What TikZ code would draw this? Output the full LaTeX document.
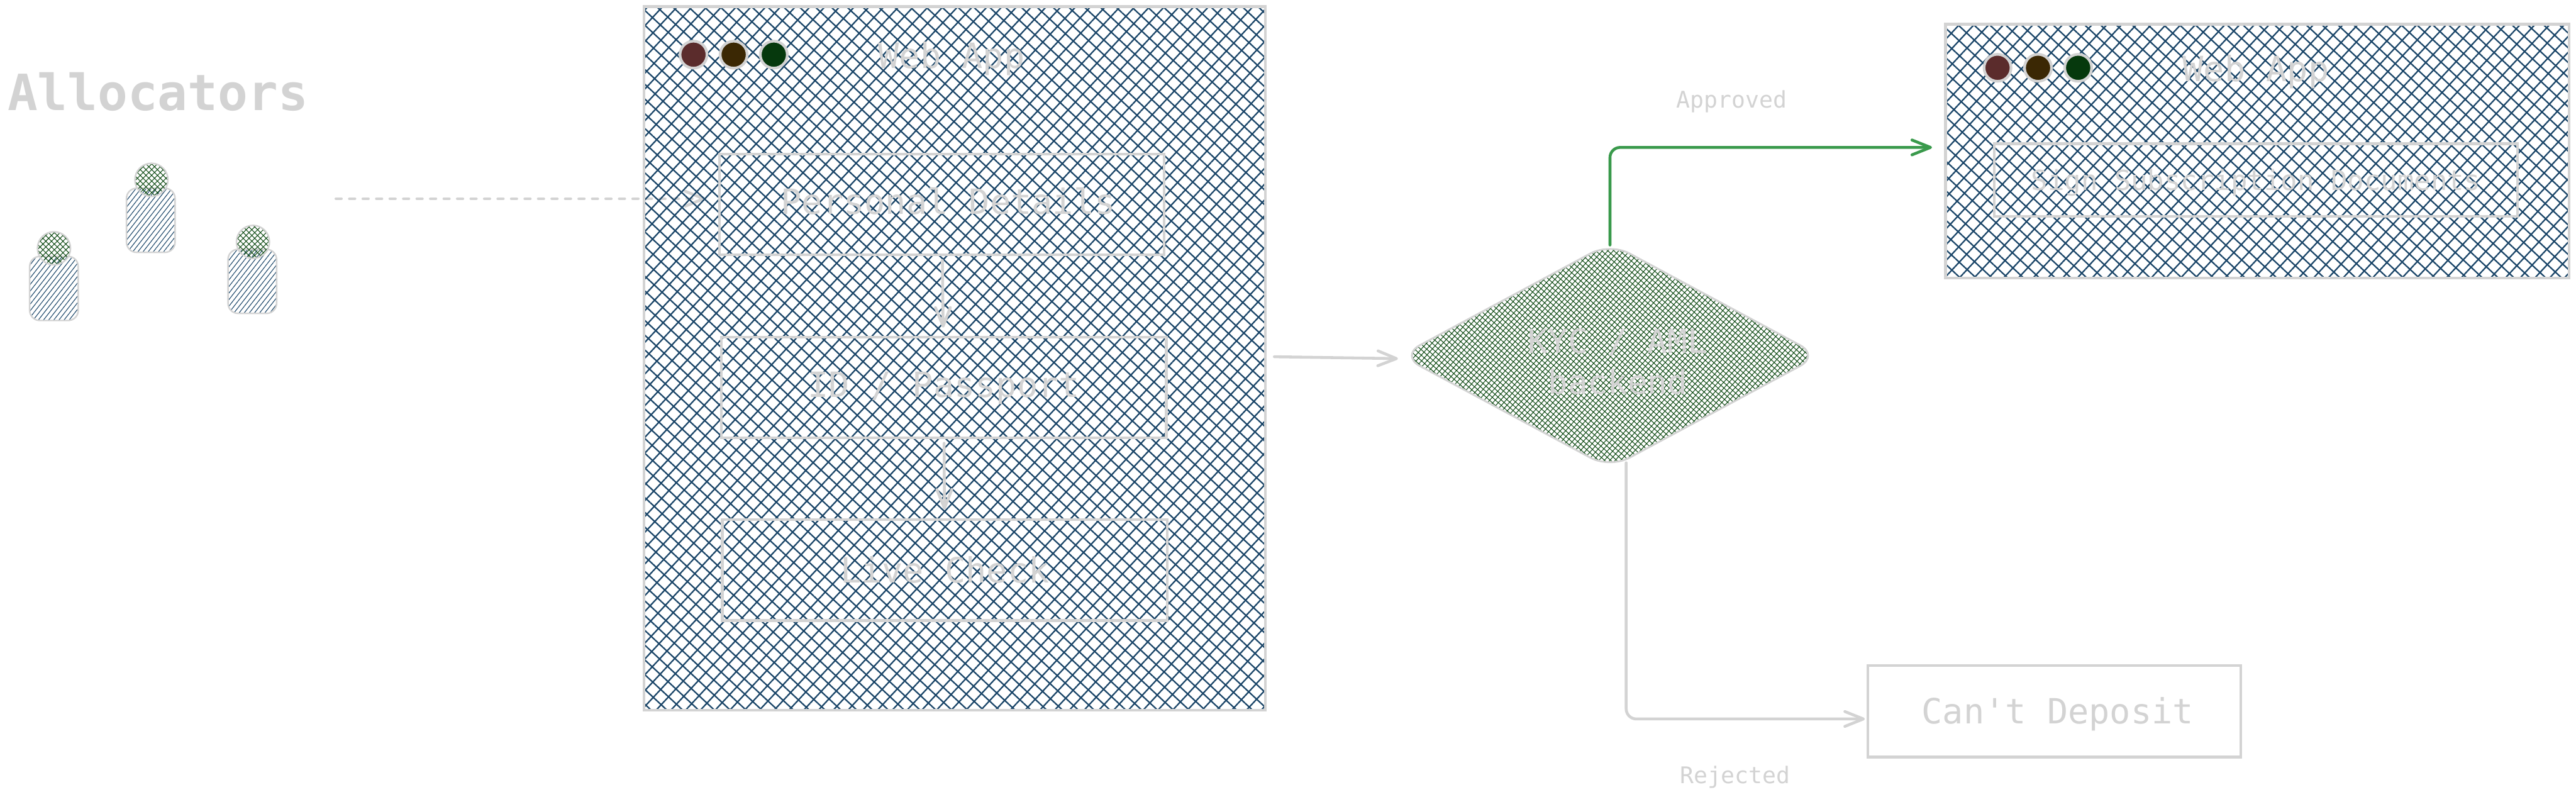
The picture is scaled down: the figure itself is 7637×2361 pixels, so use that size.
\documentclass[tikz,border=0pt]{standalone}
\usepackage{fontspec}
\setmonofont{DejaVu Sans Mono}
\usepackage{xcolor}
\usetikzlibrary{shapes.geometric}
\usetikzlibrary{arrows.meta}
\usetikzlibrary{patterns.meta}
\definecolor{edgegray}{HTML}{D3D3D3}
\definecolor{hatchblue}{HTML}{1A4568}
\definecolor{hatchgreen}{HTML}{0F4A14}
\definecolor{okgreen}{HTML}{3A9A4C}
\definecolor{dotred}{HTML}{5B2C2C}
\definecolor{dotbrown}{HTML}{3B2804}
\definecolor{dotgreen}{HTML}{06390D}

\begin{document}
\begin{tikzpicture}[
  x=0.1pt,y=-0.1pt,
  every node/.style={edgegray,text=edgegray,inner sep=0pt,line width=0.8pt},
  bigfont/.style={font=\ttfamily\fontsize{10.3pt}{12pt}\selectfont},
  smallfont/.style={font=\ttfamily\fontsize{6.8pt}{8pt}\selectfont},
  tag/.style={bigfont,anchor=base},
  appbox/.style={draw,rectangle,
    preaction={pattern={Lines[angle=47,distance=3.2pt,line width=0.42pt]},pattern color=hatchblue},
    pattern={Lines[angle=-43,distance=3.2pt,line width=0.42pt]},pattern color=hatchblue},
  stepbox/.style={draw,rectangle,bigfont,text height=7.5pt,text depth=0pt},
  dot/.style={draw,circle,minimum size=8pt},
  body/.style={draw,rectangle,rounded corners=3pt,line width=0.45pt,minimum width=14.4pt,minimum height=19pt,
    pattern={Lines[angle=52,distance=1.2pt,line width=0.2pt]},pattern color=hatchblue},
  head/.style={draw,circle,line width=0.45pt,minimum size=9.8pt,
    preaction={pattern={Lines[angle=45,distance=1.2pt,line width=0.2pt]},pattern color=hatchgreen},
    pattern={Lines[angle=-45,distance=1.2pt,line width=0.2pt]},pattern color=hatchgreen},
  flow/.style={edgegray,line width=0.85pt,line cap=round,-{Straight Barb[length=5.5pt,width=4.4pt,round]}}]
\useasboundingbox (0,0) rectangle (7637,2361);
\node[tag,font=\ttfamily\bfseries\fontsize{14.8pt}{16pt}\selectfont] (allocators) at (468,328) {Allocators};
\node[body] (bodya) at (160,855) {};
\node[head] (heada) at (160,736) {};
\node[body] (bodyb) at (447,653) {};
\node[head] (headb) at (449,533) {};
\node[body] (bodyc) at (748,834) {};
\node[head] (headc) at (750,717) {};
\coordinate (dashstart) at (996,589);
\coordinate (dashend) at (2091,589);
\draw[flow,dash pattern=on 1.6pt off 2.4pt] (dashstart) -- (dashend);
\node[appbox,minimum width=184.2pt,minimum height=208.5pt] (webapp) at (2830,1062) {};
\node[dot,fill=dotred] (reddot) at (2056,162) {};
\node[dot,fill=dotbrown] (browndot) at (2175,162) {};
\node[dot,fill=dotgreen] (greendot) at (2294,162) {};
\node[tag] (webtitle) at (2821,203) {Web App};
\node[stepbox,text depth=1.6pt,minimum width=131.9pt,minimum height=29.8pt] (personal) at (2792,606) {\hspace*{3.8pt}Personal Details};
\node[stepbox,text depth=1.8pt,minimum width=131.9pt,minimum height=29.8pt] (passport) at (2798,1149) {ID / Passport};
\node[stepbox,minimum width=131.9pt,minimum height=29.9pt] (live) at (2801,1690) {Live Check};
\draw[flow,shorten <=1.3pt,shorten >=2.5pt] (personal) -- (passport);
\draw[flow,shorten <=1.2pt,shorten >=2.6pt] (passport) -- (live);
\node[draw,diamond,aspect=1.857,rounded corners=6.5pt,minimum width=124.4pt,minimum height=67pt,align=center,
  font=\ttfamily\fontsize{9.8pt}{12pt}\selectfont,
  preaction={pattern={Lines[angle=48,distance=1.2pt,line width=0.2pt]},pattern color=hatchgreen},
  pattern={Lines[angle=-42,distance=1.2pt,line width=0.2pt]},pattern color=hatchgreen,line width=0.55pt] (kyc) at (4773,1054)
  {\hspace*{4.6pt}\rule{0pt}{10.8pt}KYC / AML\\\hspace*{4.6pt}backend};
\node[appbox,minimum width=184.9pt,minimum height=75.2pt] (signapp) at (6692,448) {};
\node[dot,fill=dotred] (signred) at (5922,201) {};
\node[dot,fill=dotbrown] (signbrown) at (6042,201) {};
\node[dot,fill=dotgreen] (signgreen) at (6161,201) {};
\node[tag] (signtitle) at (6688,241) {Web App};
\node[draw,rectangle,font=\ttfamily\fontsize{8.2pt}{10pt}\selectfont,text height=5.9pt,text depth=0pt,minimum width=155.2pt,minimum height=21.6pt] (signdocs) at (6688,534) {Sign Subscription Documents};
\node[stepbox,minimum width=110.5pt,minimum height=27.2pt] (cantdeposit) at (6090,2108) {\hspace*{2pt}Can't Deposit};
\node[smallfont,anchor=base] (approved) at (5134,320) {Approved};
\node[smallfont,anchor=base] (rejected) at (5144,2323) {Rejected};
\draw[flow,shorten <=2.5pt,shorten >=0.4pt] ([yshift=0.5pt]webapp.east) -- ([yshift=-0.9pt]kyc.west);
\draw[flow,okgreen,rounded corners=3pt,shorten <=-1pt,shorten >=3.6pt] (kyc.north) |- ([yshift=1.1pt]signapp.west);
\draw[flow,rounded corners=3pt,shorten <=-2pt,shorten >=0.5pt] ([xshift=4.8pt]kyc.south) |- ([yshift=-2.3pt]cantdeposit.west);
\end{tikzpicture}
\end{document}
